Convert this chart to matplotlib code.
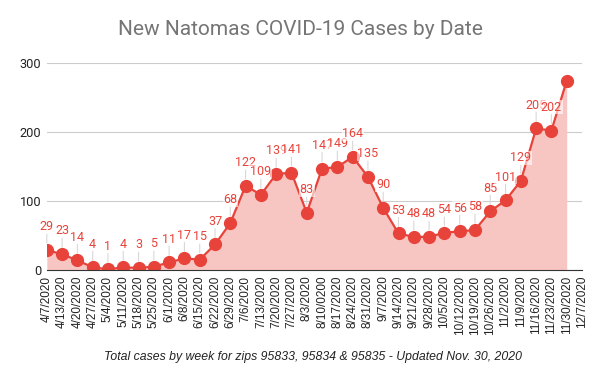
import matplotlib
matplotlib.use('Agg')
import matplotlib.pyplot as plt
import numpy as np

# weekly dates shown on the x axis (last one has no data yet)
dates = ['4/7/2020', '4/13/2020', '4/20/2020', '4/27/2020', '5/4/2020', '5/11/2020',
         '5/18/2020', '5/25/2020', '6/1/2020', '6/8/2020', '6/15/2020', '6/22/2020',
         '6/29/2020', '7/6/2020', '7/13/2020', '7/20/2020', '7/27/2020', '8/3/2020',
         '8/10/0200', '8/17/2020', '8/24/2020', '8/31/2020', '9/7/2020', '9/14/2020',
         '9/21/2020', '9/28/2020', '10/5/2020', '10/12/2020', '10/19/2020', '10/26/2020',
         '11/2/2020', '11/9/2020', '11/16/2020', '11/23/2020', '11/30/2020', '12/7/2020']
cases = [29, 23, 14, 4, 1, 4, 3, 5, 11, 17, 15, 37, 68, 122, 109, 139, 141, 83,
         147, 149, 164, 135, 90, 53, 48, 48, 54, 56, 58, 85, 101, 129, 205, 202, 274]
yticks = [0, 100, 200, 300]

red = '#e8433a'
fig = plt.figure(figsize=(6, 3.88), dpi=100)
ax = fig.add_axes([0.078, 0.304, 0.892, 0.534])

x = np.arange(len(cases))
ax.fill_between(x, cases, 0, color='#f8c6c2', lw=0, zorder=1)
ax.plot(x, cases, color=red, lw=1.6, marker='o', ms=8.5, zorder=3)

# data labels (last point has none)
for i, v in enumerate(cases[:-1]):
    ax.annotate(str(v), (i, v), xytext=(0, 12), textcoords='offset points',
                ha='center', va='bottom', fontsize=9, color=red, family='Roboto',
                bbox=dict(boxstyle='square,pad=0.05', fc='white', ec='none', alpha=0.6),
                arrowprops=dict(arrowstyle='-', color='#d8d8d8', lw=0.8,
                                shrinkA=0, shrinkB=5), zorder=4)

ax.set_xlim(0, len(dates) - 1)
ax.set_ylim(0, 300)
ax.set_xticks(np.arange(len(dates)))
ax.set_xticklabels(dates, rotation=90, fontsize=8.5, color='#222222',
                   family='Liberation Sans')
ax.set_yticks(yticks)
ax.set_yticklabels([str(t) for t in yticks], fontsize=9.2, color='#222222', family='Roboto')
ax.tick_params(length=0, pad=4)
ax.grid(axis='y', color='#cccccc', lw=0.8)
ax.set_axisbelow(True)
for s in ['top', 'right', 'left']:
    ax.spines[s].set_visible(False)
ax.spines['bottom'].set_color('#333333')
ax.spines['bottom'].set_zorder(5)

fig.text(0.5, 0.925, 'New Natomas COVID-19 Cases by Date', ha='center', va='center',
         fontsize=15, color='#757575', family='Roboto')
fig.text(0.522, 0.08, 'Total cases by week for zips 95833, 95834 & 95835 - Updated Nov. 30, 2020',
         ha='center', va='center', fontsize=8.8, style='italic', color='#222222',
         family='Liberation Sans')

fig.savefig('out.png')
